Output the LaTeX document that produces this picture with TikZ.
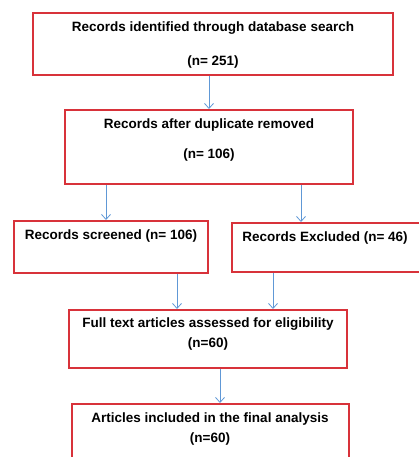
\documentclass[tikz,border=0pt]{standalone}
\usepackage{fontspec}
\setmainfont{Liberation Sans}
\usetikzlibrary{arrows.meta, positioning}

\definecolor{boxred}{RGB}{216,50,58}
\definecolor{flowblue}{RGB}{96,152,214}

\tikzset{
    box/.style={draw=boxred, line width=2pt, inner sep=0pt},
    txt/.style={font=\fontsize{13.5}{16}\selectfont\bfseries, align=center, inner sep=0pt},
    flow/.style={-{Straight Barb[length=5pt,width=9pt]}, draw=flowblue, line width=0.8pt}
}

\begin{document}
\begin{tikzpicture}[x=1pt, y=-1pt]
    \useasboundingbox (0,0) rectangle (419,457);

    % boxes
    \node[box, minimum width=360, minimum height=62] (b1) at (213,44) {};
    \node[box, minimum width=288, minimum height=74] (b2) at (209,147) {};
    \node[box, minimum width=194, minimum height=52] (b3) at (111,247) {};
    \node[box, minimum width=192, minimum height=49] (b4) at (328,247.5) {};
    \node[box, minimum width=278, minimum height=58] (b5) at (208,339) {};
    \node[box, minimum width=277, minimum height=64] (b6) at (210,436) {};

    % texts
    \node[txt] (t1) at (213,45) {Records identified through database search\\[18pt](n= 251)};
    \node[txt] (t2) at (209,140) {Records after duplicate removed\\[14pt](n= 106)};
    \node[txt] (t3) at (111,236) {Records screened (n= 106)};
    \node[txt] (t4) at (325,238) {Records Excluded (n= 46)};
    \node[txt] (t5) at (208,334) {Full text articles assessed for eligibility\\[4pt](n=60)};
    \node[txt] (t6) at (210,429) {Articles included in the final analysis\\[4pt](n=60)};

    % connectors
    \draw[flow] (b1.south -| b2.north) -- (b2.north);
    \draw[flow] (b2.south -| 106,0) -- (b3.north -| 106,0);
    \draw[flow] (b2.south -| 301,0) -- (b4.north -| 301,0);
    \draw[flow] (b3.south -| 177,0) -- (b5.north -| 177,0);
    \draw[flow] (b4.south -| 273,0) -- (b5.north -| 273,0);
    \draw[flow] (b5.south -| 220,0) -- (b6.north -| 220,0);
\end{tikzpicture}
\end{document}
